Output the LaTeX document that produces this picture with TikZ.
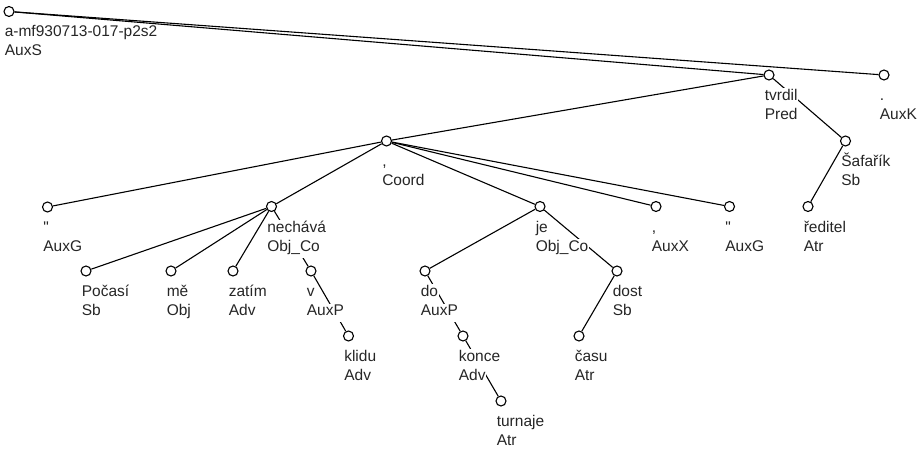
\documentclass[tikz,border=0pt]{standalone}
\usepackage{fontspec}
\newfontfamily\lblfont{Liberation Sans}
\usetikzlibrary{backgrounds}

\tikzset{
  tnode/.style={circle, draw, fill=white, line width=1.1pt, minimum size=10pt, inner sep=0pt},
  dep/.style={line width=1.1pt},
  lbl/.style={anchor=base west, fill=white, inner xsep=0.6pt, inner ysep=0.8pt,
              text=black!85, font=\lblfont\fontsize{15.5}{19}\selectfont},
}

% tree node: name, x, y, word form, syntactic function
\newcommand\depnode[5]{%
  \node[tnode] (#1) at (#2,#3) {};
  \node[lbl] (#1-w) at ([xshift=-5pt,yshift=-25.5pt]#1.center) {\rule[-5.7pt]{0pt}{12pt}#4};
  \node[lbl] (#1-f) at ([xshift=-5pt,yshift=-44.5pt]#1.center) {\rule[-5.7pt]{0pt}{12pt}#5};
}

\begin{document}
\begin{tikzpicture}[x=1pt, y=-1pt]
  \useasboundingbox (0,0) rectangle (921,452);

  \depnode{root}{9}{11.5}{a-mf930713-017-p2s2}{AuxS}
  \depnode{tvrdil}{769}{75}{tvrdil}{Pred}
  \depnode{auxk}{884}{75}{.}{AuxK}
  \depnode{coord}{386.5}{141}{,}{Coord}
  \depnode{safarik}{845.5}{141}{Šafařík}{Sb}
  \depnode{quoteA}{47.5}{207}{"}{AuxG}
  \depnode{nechava}{271.5}{206.5}{nechává}{Obj\_Co}
  \depnode{je}{540}{206.5}{je}{Obj\_Co}
  \depnode{auxx}{656}{206.5}{,}{AuxX}
  \depnode{quoteB}{729.5}{206.5}{"}{AuxG}
  \depnode{reditel}{808}{206.5}{ředitel}{Atr}
  \depnode{pocasi}{86}{271}{Počasí}{Sb}
  \depnode{me}{171}{271}{mě}{Obj}
  \depnode{zatim}{233}{271}{zatím}{Adv}
  \depnode{v}{311}{271}{v}{AuxP}
  \depnode{do}{425}{271}{do}{AuxP}
  \depnode{dost}{617}{271}{dost}{Sb}
  \depnode{klidu}{348.5}{336}{klidu}{Adv}
  \depnode{konce}{463}{336}{konce}{Adv}
  \depnode{casu}{579}{336}{času}{Atr}
  \depnode{turnaje}{501}{401}{turnaje}{Atr}

  \begin{pgfonlayer}{background}
    \draw[dep] (root) -- (tvrdil);
    \draw[dep] (root) -- (auxk);
    \draw[dep] (tvrdil) -- (coord);
    \draw[dep] (tvrdil) -- (safarik);
    \draw[dep] (safarik) -- (reditel);
    \draw[dep] (coord) -- (quoteA);
    \draw[dep] (coord) -- (nechava);
    \draw[dep] (coord) -- (je);
    \draw[dep] (coord) -- (auxx);
    \draw[dep] (coord) -- (quoteB);
    \draw[dep] (nechava) -- (pocasi);
    \draw[dep] (nechava) -- (me);
    \draw[dep] (nechava) -- (zatim);
    \draw[dep] (nechava) -- (v);
    \draw[dep] (v) -- (klidu);
    \draw[dep] (je) -- (do);
    \draw[dep] (je) -- (dost);
    \draw[dep] (do) -- (konce);
    \draw[dep] (konce) -- (turnaje);
    \draw[dep] (dost) -- (casu);
  \end{pgfonlayer}
\end{tikzpicture}
\end{document}
